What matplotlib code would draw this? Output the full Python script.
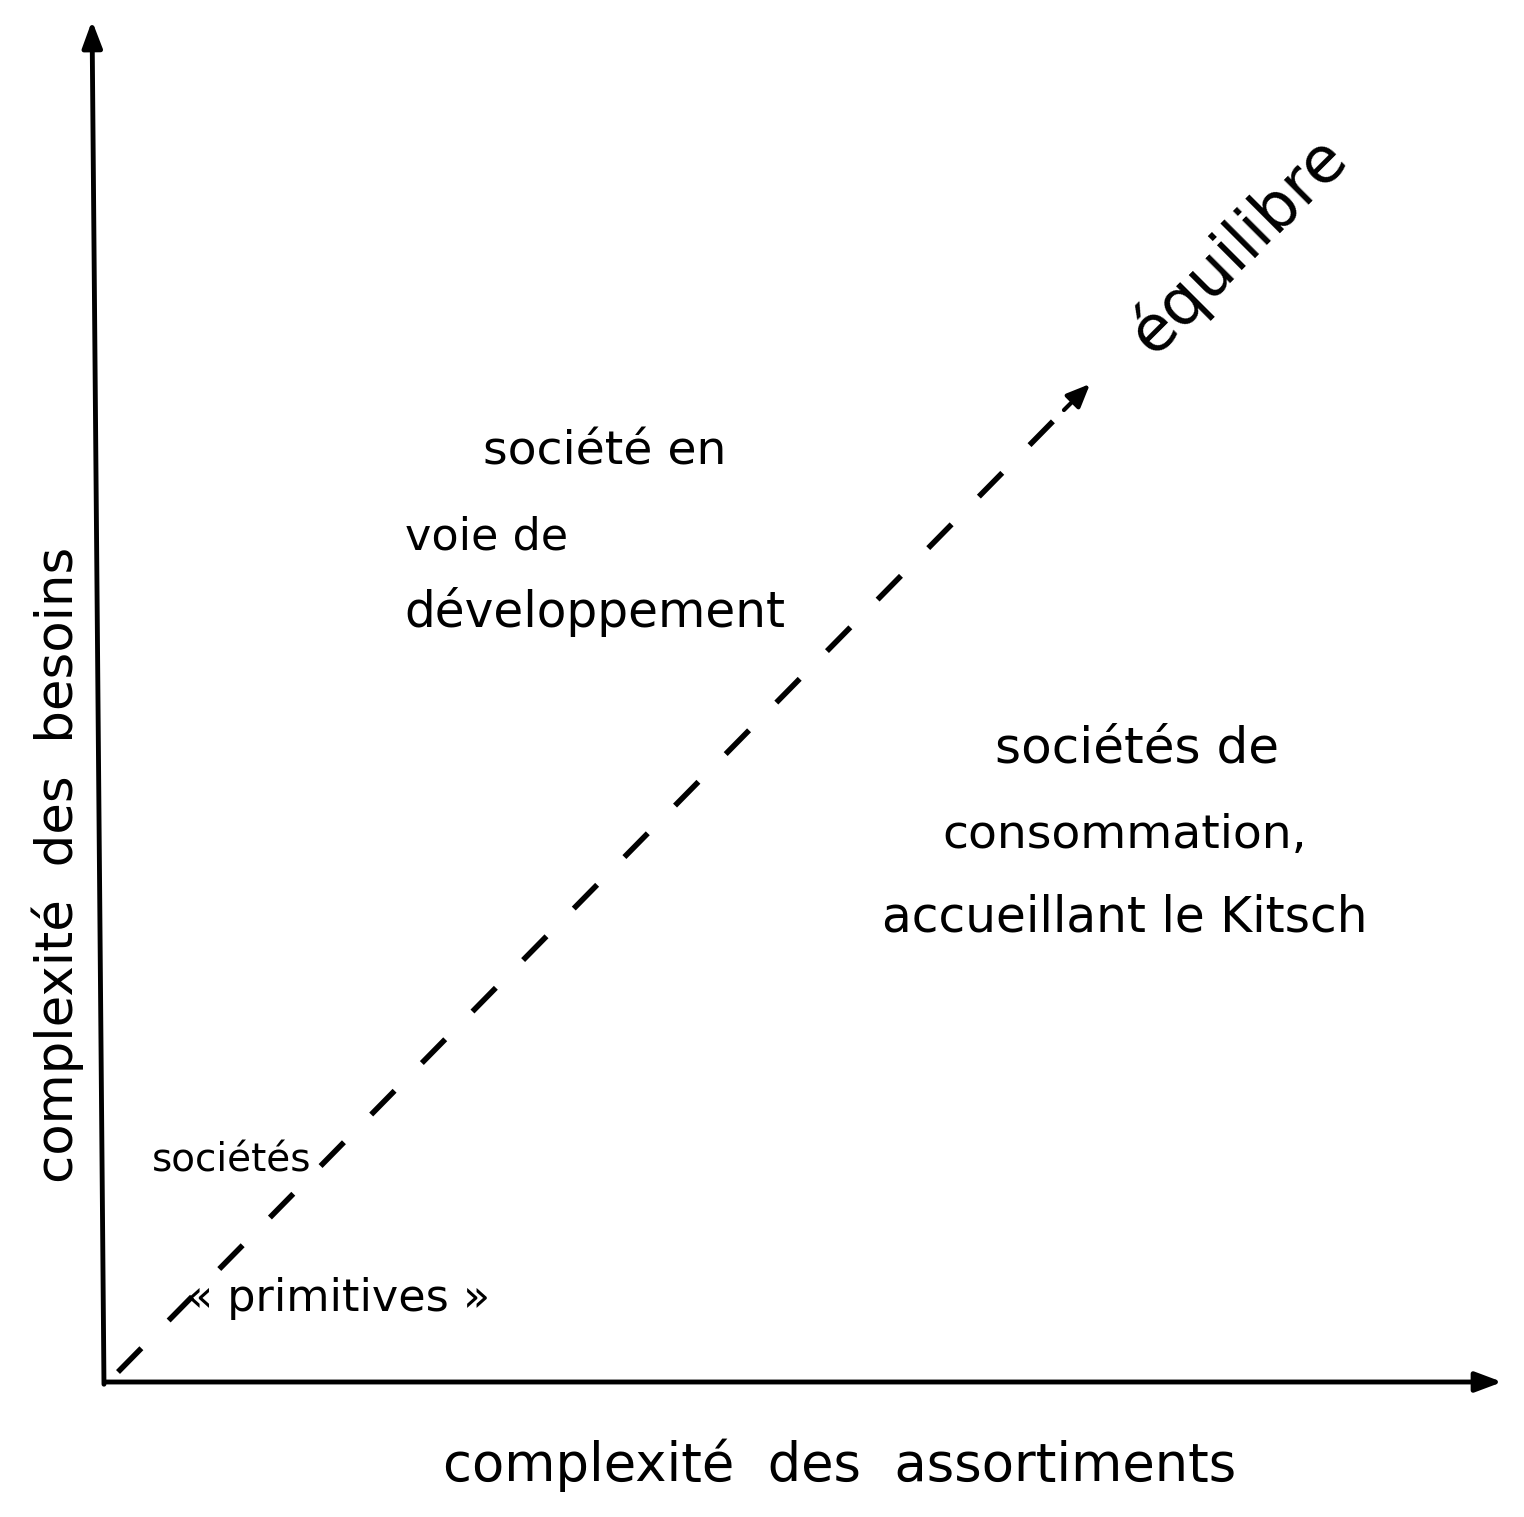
import matplotlib.pyplot as plt

# diagram geometry in picture pixels (y downward)
origin = (107, 1382)
x_axis_end = (1505, 1382)
y_axis_end = (92, 18)
diag_start = (118, 1372)
diag_end = (1092, 382)

labels = ["société en", "voie de", "développement",
          "sociétés de", "consommation,", "accueillant le Kitsch",
          "sociétés", "« primitives »"]
label_x = [605, 487, 595, 1137, 1125, 1125, 232, 338]
label_y = [452, 537, 612, 748, 835, 917, 1160, 1298]
label_size = [34, 32, 35, 36, 34, 35, 28, 32]

fig = plt.figure(figsize=(15.24, 15.17), dpi=100)
ax = fig.add_axes([0, 0, 1, 1])
ax.set_xlim(0, 1524)
ax.set_ylim(1517, 0)
ax.axis("off")

arrow = dict(arrowstyle="-|>,head_length=1.6,head_width=0.6", color="black", lw=3.5)
ax.annotate("", xy=x_axis_end, xytext=(origin[0] - 5, origin[1]), arrowprops=arrow)
ax.annotate("", xy=y_axis_end, xytext=(origin[0] - 3, origin[1] + 5), arrowprops=arrow)

# dashed diagonal
ax.plot([diag_start[0], diag_end[0] - 25], [diag_start[1], diag_end[1] + 25],
        color="black", lw=4, linestyle=(0, (6, 7)))
ax.annotate("", xy=diag_end, xytext=(diag_end[0] - 30, diag_end[1] + 30),
            arrowprops=dict(arrowstyle="-|>,head_length=1.4,head_width=0.6",
                            color="black", lw=3))

for t, x, y, s in zip(labels, label_x, label_y, label_size):
    ax.text(x, y, t, fontsize=s, ha="center", va="center", color="black")

ax.text(1238, 245, "équilibre", fontsize=46, rotation=45,
        ha="center", va="center")
ax.text(840, 1465, "complexité  des  assortiments", fontsize=38,
        ha="center", va="center")
ax.text(58, 865, "complexité  des  besoins", fontsize=37, rotation=90,
        ha="center", va="center")

fig.savefig("out.png", dpi=100, facecolor="white")
